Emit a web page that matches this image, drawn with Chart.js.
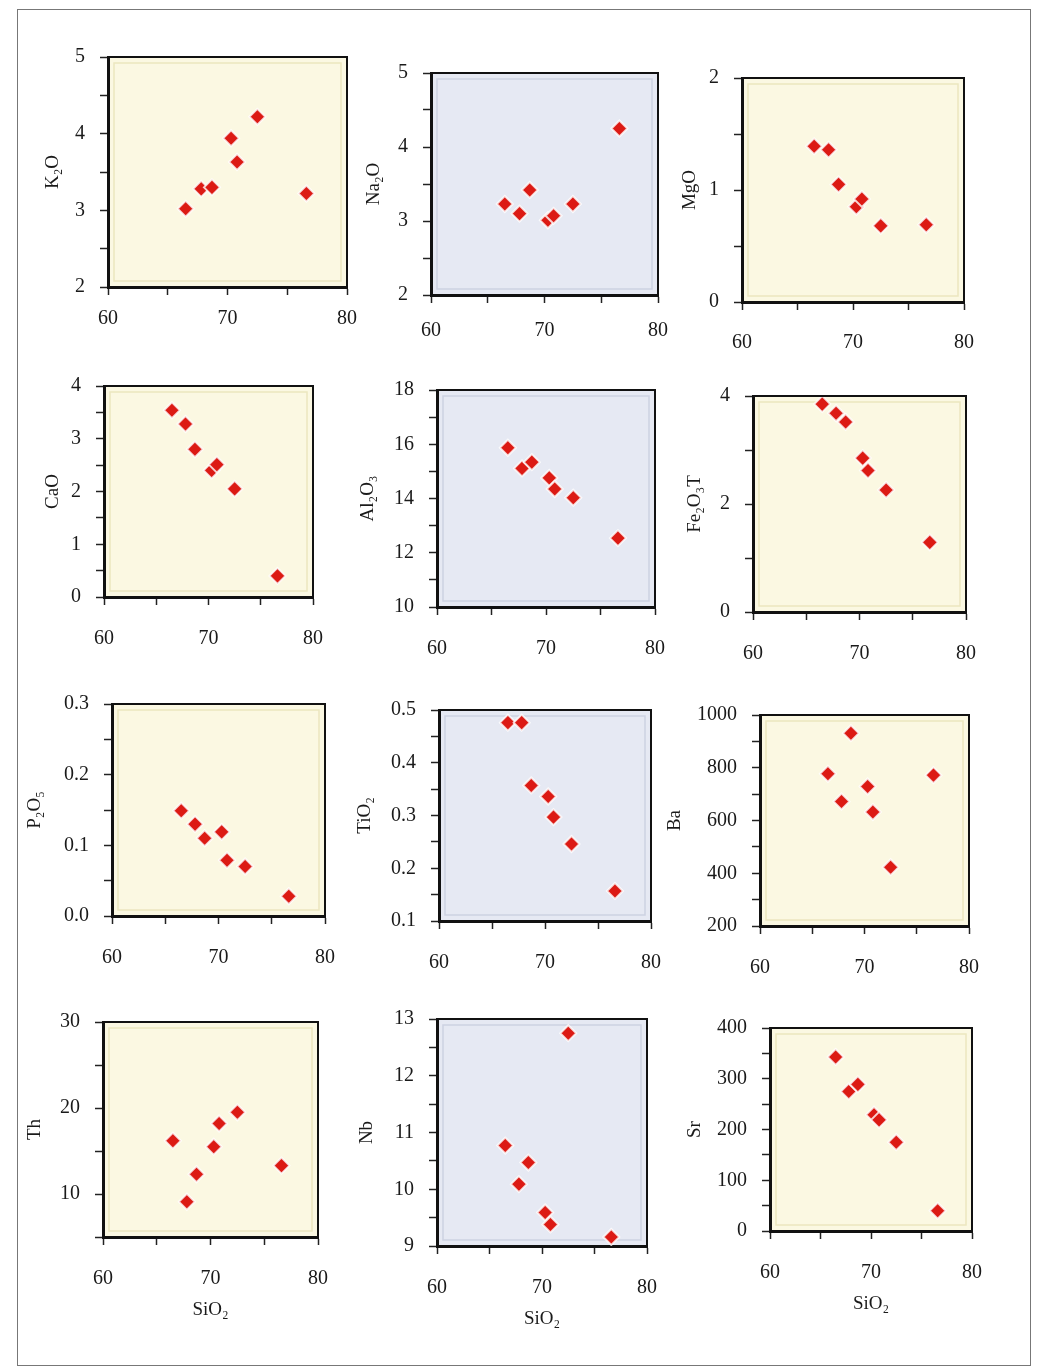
<!DOCTYPE html>
<html>
<head>
<meta charset="utf-8">
<script src="https://cdn.jsdelivr.net/npm/chart.js@4.4.1/dist/chart.umd.min.js"></script>
<style>
  body { margin: 0; background: #fff; width: 1043px; height: 1371px; position: relative; overflow: hidden; }
  .frame { position: absolute; left: 17px; top: 9px; width: 1012px; height: 1355px; border: 1px solid #777; }
  canvas { position: absolute; }
</style>
</head>
<body>
<div class="frame"></div>
<script>
// SiO2 of the seven samples (x of every panel)
const sio2 = [66.5, 67.8, 68.7, 70.3, 70.8, 72.5, 76.6];
const sio2Ticks = ['60', '70', '80'];

// y values, same sample order as sio2
const k2o   = [3.02, 3.28, 3.30, 3.94, 3.63, 4.22, 3.22];
const na2o  = [3.23, 3.10, 3.42, 3.01, 3.07, 3.23, 4.25];
const mgo   = [1.39, 1.36, 1.05, 0.85, 0.92, 0.68, 0.69];
const cao   = [3.54, 3.28, 2.80, 2.40, 2.51, 2.05, 0.40];
const al2o3 = [15.87, 15.11, 15.34, 14.76, 14.35, 14.03, 12.54];
const fe2o3 = [3.85, 3.68, 3.52, 2.85, 2.62, 2.26, 1.29];
const p2o5  = [0.149, 0.130, 0.110, 0.119, 0.079, 0.070, 0.028];
const tio2  = [0.476, 0.476, 0.357, 0.336, 0.297, 0.246, 0.157];
const ba    = [777, 672, 931, 729, 632, 423, 772];
const th    = [16.2, 9.1, 12.3, 15.5, 18.2, 19.5, 13.3];
const nb    = [10.77, 10.09, 10.47, 9.59, 9.38, 12.75, 9.16];
const sr    = [343, 275, 289, 229, 219, 175, 40];

// y tick labels
const k2oTicks   = ['2', '3', '4', '5'];
const na2oTicks  = ['2', '3', '4', '5'];
const mgoTicks   = ['0', '1', '2'];
const caoTicks   = ['0', '1', '2', '3', '4'];
const al2o3Ticks = ['10', '12', '14', '16', '18'];
const fe2o3Ticks = ['0', '2', '4'];
const p2o5Ticks  = ['0.0', '0.1', '0.2', '0.3'];
const tio2Ticks  = ['0.1', '0.2', '0.3', '0.4', '0.5'];
const baTicks    = ['200', '400', '600', '800', '1000'];
const thTicks    = ['10', '20', '30'];
const nbTicks    = ['9', '10', '11', '12', '13'];
const srTicks    = ['0', '100', '200', '300', '400'];

const YELLOW = { fill: '#fbf8e2', inner: '#ece6bf' };
const BLUE   = { fill: '#e6e9f3', inner: '#cdd2e2' };

// layout: box = [left, top, right, bottom] of the plot area
const panels = [
  { title: 'K₂O',    y: k2o,   min: 2,   max: 5,    step: 0.5,  labels: k2oTicks,   col: YELLOW, box: [108, 46, 347, 287],   gap: 55, xPad: 12 },
  { title: 'Na₂O',   y: na2o,  min: 2,   max: 5,    step: 0.5,  labels: na2oTicks,  col: BLUE,   box: [431, 62, 662, 295],   gap: 57, xPad: 16 },
  { title: 'MgO',    y: mgo,   min: 0,   max: 2,    step: 0.5,  labels: mgoTicks,   col: YELLOW, box: [742, 67, 973, 302],   gap: 52, xPad: 21 },
  { title: 'CaO',    y: cao,   min: 0,   max: 4,    step: 0.5,  labels: caoTicks,   col: YELLOW, box: [104, 375, 323, 597],  gap: 51, xPad: 22 },
  { title: 'Al₂O₃',  y: al2o3, min: 10,  max: 18,   step: 1,    labels: al2o3Ticks, col: BLUE,   box: [437, 379, 665, 607],  gap: 69, xPad: 22 },
  { title: 'Fe₂O₃T', y: fe2o3, min: 0,   max: 4,    step: 1,    labels: fe2o3Ticks, col: YELLOW, box: [753, 385, 976, 612],  gap: 58, xPad: 22 },
  { title: 'P₂O₅',   y: p2o5,  min: 0,   max: 0.3,  step: 0.05, labels: p2o5Ticks,  col: YELLOW, box: [112, 693, 335, 916],  gap: 77, xPad: 22 },
  { title: 'TiO₂',   y: tio2,  min: 0.1, max: 0.5,  step: 0.05, labels: tio2Ticks,  col: BLUE,   box: [439, 699, 661, 921],  gap: 74, xPad: 22 },
  { title: 'Ba',     y: ba,    min: 200, max: 1000, step: 100,  labels: baTicks,    col: YELLOW, box: [760, 704, 979, 926],  gap: 85, xPad: 22 },
  { title: 'Th',     y: th,    min: 5,   max: 30,   step: 5,    labels: thTicks,    col: YELLOW, box: [103, 1011, 328, 1237], gap: 68, xPad: 22, xTitle: true },
  { title: 'Nb',     y: nb,    min: 9,   max: 13,   step: 0.5,  labels: nbTicks,    col: BLUE,   box: [437, 1008, 657, 1246], gap: 70, xPad: 22, xTitle: true },
  { title: 'Sr',     y: sr,    min: 0,   max: 400,  step: 50,   labels: srTicks,    col: YELLOW, box: [770, 1017, 982, 1231], gap: 75, xPad: 22, xTitle: true }
];

// background + inner border + top/right frame lines
const panelFrame = {
  id: 'panelFrame',
  beforeDraw(chart, args, opts) {
    const { ctx, chartArea: a } = chart;
    ctx.save();
    ctx.fillStyle = opts.fill;
    ctx.fillRect(a.left, a.top, a.width, a.height);
    ctx.strokeStyle = opts.inner;
    ctx.lineWidth = 1.5;
    ctx.strokeRect(a.left + 6, a.top + 6, a.width - 12, a.height - 12);
    ctx.restore();
  },
  afterDraw(chart) {
    const { ctx, chartArea: a } = chart;
    ctx.save();
    ctx.strokeStyle = '#111';
    ctx.lineWidth = 2;
    ctx.beginPath();
    ctx.moveTo(a.left, a.top);
    ctx.lineTo(a.right, a.top);
    ctx.lineTo(a.right, a.bottom);
    ctx.stroke();
    ctx.restore();
  }
};

function pickLabel(list, v) {
  const t = list.find(s => Math.abs(Number(s) - v) < 1e-6);
  return t === undefined ? '' : t;
}

const tickFont = { family: 'Liberation Serif', size: 20 };
const titleFont = { family: 'Liberation Serif', size: 19 };
const PAD_TOP = 16, PAD_RIGHT = 22;

panels.forEach(p => {
  const [L, T, R, B] = p.box;
  const yW = p.gap + 15;
  const xH = p.xTitle ? 88 : 60;

  const canvas = document.createElement('canvas');
  canvas.width = (R - L) + yW + PAD_RIGHT;
  canvas.height = (B - T) + PAD_TOP + xH;
  canvas.style.left = (L - yW) + 'px';
  canvas.style.top = (T - PAD_TOP) + 'px';
  document.body.appendChild(canvas);

  new Chart(canvas.getContext('2d'), {
    type: 'scatter',
    data: {
      datasets: [{
        data: sio2.map((x, i) => ({ x: x, y: p.y[i] })),
        pointStyle: 'rectRot',
        pointRadius: 8,
        backgroundColor: '#dc1a14',
        borderColor: 'rgba(255,255,255,0.8)',
        borderWidth: 2
      }]
    },
    options: {
      responsive: false,
      animation: false,
      layout: { padding: { top: PAD_TOP, right: PAD_RIGHT, left: 0, bottom: 0 } },
      plugins: {
        legend: { display: false },
        tooltip: { enabled: false },
        panelFrame: p.col
      },
      scales: {
        x: {
          type: 'linear',
          min: 60, max: 80,
          afterFit: s => { s.height = xH; },
          border: { display: true, color: '#111', width: 3 },
          grid: { drawOnChartArea: false, drawTicks: true, tickLength: 8, tickColor: '#222', tickWidth: 1.5 },
          ticks: {
            stepSize: 5, autoSkip: false, maxRotation: 0,
            padding: p.xPad, color: '#1a1a1a', font: tickFont,
            callback: v => pickLabel(sio2Ticks, v)
          },
          title: { display: !!p.xTitle, text: 'SiO₂', color: '#1a1a1a', font: titleFont, padding: { top: 0, bottom: 4 } }
        },
        y: {
          type: 'linear',
          min: p.min, max: p.max,
          afterFit: s => { s.width = yW; },
          border: { display: true, color: '#111', width: 3 },
          grid: { drawOnChartArea: false, drawTicks: true, tickLength: 8, tickColor: '#222', tickWidth: 1.5 },
          ticks: {
            stepSize: p.step, autoSkip: false,
            padding: 15, color: '#1a1a1a', font: tickFont,
            callback: v => pickLabel(p.labels, v)
          },
          title: { display: true, text: p.title, color: '#1a1a1a', font: titleFont, padding: { top: 4, bottom: 0 } }
        }
      }
    },
    plugins: [panelFrame]
  });
});
</script>
</body>
</html>
